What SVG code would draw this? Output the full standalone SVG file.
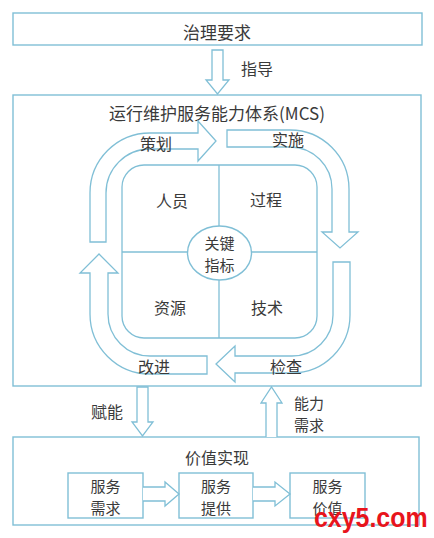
<svg xmlns="http://www.w3.org/2000/svg" width="434" height="538" viewBox="0 0 434 538">
<style>
.box{fill:#fff;stroke:#80bfd6;stroke-width:1.4}
.arr{fill:#fff;stroke:#80bfd6;stroke-width:1.3;stroke-linejoin:miter}
.ln{fill:none;stroke:#80bfd6;stroke-width:1.3}
.t{font-family:"Noto Sans CJK SC","Liberation Sans",sans-serif;fill:#3a3a3a;text-anchor:middle;dominant-baseline:central}
.t17{font-size:17px}
.t16{font-size:16px}
.t15{font-size:15px}
.wm{font-family:"Liberation Sans",Arial,sans-serif;font-weight:bold;font-size:28px;fill:#e8141c}
</style>
<rect width="434" height="538" fill="#fff"/>

<g id="governance">
<rect class="box" x="13" y="13" width="409" height="32"/>
<text class="t t17" x="217" y="31">治理要求</text>
</g>

<g id="mcs">
<rect class="box" x="13" y="95" width="408" height="291"/>
<text class="t t17" x="217" y="112">运行维护服务能力体系(MCS)</text>
</g>

<g id="core">
<rect class="ln" x="122" y="165" width="195" height="173" rx="22"/>
<line class="ln" x1="219" y1="165" x2="219" y2="338"/>
<line class="ln" x1="122" y1="252" x2="317" y2="252"/>
<ellipse class="box" cx="219.5" cy="253" rx="32" ry="27"/>
<text class="t t16" x="172" y="200">人员</text>
<text class="t t16" x="266" y="199">过程</text>
<text class="t t16" x="170" y="307">资源</text>
<text class="t t16" x="267" y="307">技术</text>
<text class="t t15" x="219.5" y="242">关键</text>
<text class="t t15" x="219.5" y="264">指标</text>
</g>

<g id="value">
<rect class="box" x="13" y="437" width="406" height="88"/>
<text class="t t16" x="217" y="457">价值实现</text>
</g>
<g id="svc-demand">
<rect class="box" x="68" y="473" width="75" height="45"/>
<text class="t t15" x="105.5" y="485">服务</text>
<text class="t t15" x="105.5" y="507">需求</text>
</g>
<g id="svc-provide">
<rect class="box" x="179" y="473" width="74" height="45"/>
<text class="t t15" x="216" y="485">服务</text>
<text class="t t15" x="216" y="507">提供</text>
</g>
<g id="svc-value">
<rect class="box" x="290" y="473" width="75" height="45"/>
<text class="t t15" x="327.5" y="485">服务</text>
<text class="t t15" x="327.5" y="507">价值</text>
</g>

<g id="connectors">
<path class="arr" d="M212 50 L223 50 L223 80 L229 80 L217.5 94 L206 80 L212 80 Z"/>
<path class="arr" d="M137 387 L148 387 L148 422 L153 422 L142.5 436 L132 422 L137 422 Z"/>
<path class="arr" d="M266 437 L266 403 L261 403 L271.5 387 L282 403 L277 403 L277 437"/>
<path class="arr" d="M143 487 L165 487 L165 482 L179 494 L165 506 L165 501 L143 501"/>
<path class="arr" d="M253 487 L275 487 L275 482 L290 494 L275 506 L275 501 L253 501"/>
<path class="arr" d="M90 242 L90 193 A60 60 0 0 1 150 133 L198 133 L198 121 L216 141 L198 161 L198 149 L150 149 A44 44 0 0 0 106 193 L106 242 Z"/>
<path class="arr" d="M227 130 L290 130 A59 59 0 0 1 349 189 L349 232 L358 232 L340 248 L322 232 L332 232 L332 189 A42 42 0 0 0 290 147 L227 147 Z"/>
<path class="arr" d="M333 262 L350 262 L350 315 A58 58 0 0 1 292 373 L235 373 L235 382 L216 364 L235 346 L235 356 L292 356 A41 41 0 0 0 333 315 Z"/>
<path class="arr" d="M207 356 L150 356 A42 42 0 0 1 108 314 L108 273 L118 273 L99 254 L80 273 L90 273 L90 314 A60 60 0 0 0 150 374 L207 374 Z"/>
</g>

<g id="labels">
<text class="t t16" x="257" y="68">指导</text>
<text class="t t16" x="107" y="411">赋能</text>
<text class="t t15" x="309" y="402">能力</text>
<text class="t t15" x="309" y="424">需求</text>
<text class="t t16" x="156" y="143">策划</text>
<text class="t t16" x="288" y="139">实施</text>
<text class="t t16" x="286" y="366">检查</text>
<text class="t t16" x="154" y="366">改进</text>
</g>

<text class="wm" transform="translate(314 527) scale(0.89 1)" x="0" y="0">cxy5.com</text>
</svg>
